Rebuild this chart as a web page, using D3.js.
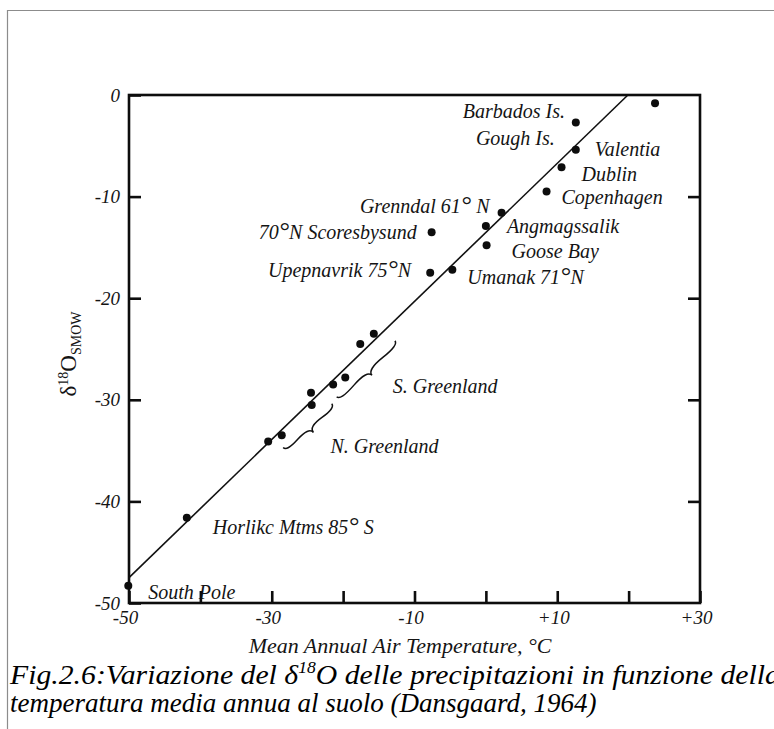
<!DOCTYPE html>
<html>
<head>
<meta charset="utf-8">
<script src="https://cdn.jsdelivr.net/npm/d3@7"></script>
<style>
  html, body { margin: 0; padding: 0; background: #fff; }
  svg { display: block; }
</style>
</head>
<body>
<svg id="chart" width="774" height="729"></svg>
<script>
// Named stations: mean annual air temperature (°C) and δ18O of precipitation (‰ SMOW)
const stationNames = ["Barbados Is.", "Gough Is.", "Valentia", "Dublin", "Copenhagen",
  "Grenndal 61° N", "Angmagssalik", "70°N Scoresbysund", "Goose Bay",
  "Upepnavrik 75°N", "Umanak 71°N", "Horlikc Mtms 85° S", "South Pole"];
const stationTemp  = [23.7, 12.6, 12.6, 10.6, 8.5, 2.2, 0.0, -7.6, 0.1, -7.8, -4.7, -41.9, -50.1];
const stationDelta = [-0.8, -2.7, -5.4, -7.1, -9.5, -11.6, -12.9, -13.5, -14.8, -17.5, -17.2, -41.6, -48.3];

// Greenland ice-sheet stations (grouped by braces, not labelled one by one)
const greenlandTemp  = [-15.7, -17.6, -19.7, -21.4, -24.5, -24.4, -28.6, -30.5];
const greenlandDelta = [-23.5, -24.5, -27.8, -28.5, -29.3, -30.5, -33.5, -34.1];

// Brace groups: lower end and upper end of each brace, in (T, δ)
const groupNames = ["S. Greenland", "N. Greenland"];
const groupLow   = [[-20.9, -29.7], [-28.4, -34.7]];
const groupHigh  = [[-12.75, -24.2], [-21.6, -30.4]];

// Regression line end points
const fitTemp  = [-50, 19.9];
const fitDelta = [-47.5, 0];

// Axis ticks and their labels
const xTicks      = [-50, -40, -30, -20, -10, 0, 10, 20, 30];
const xTickLabels = ["-50", "", "-30", "", "-10", "", "+10", "", "+30"];
const yTicks      = [0, -10, -20, -30, -40, -50];
const yTickLabels = ["0", "-10", "-20", "-30", "-40", "-50"];
const yRightTicks = [-10, -20, -30, -40];

// Label placement relative to each station point (pixels)
const stationLabelLayout = [
  { dx: -90, dy: 15, anchor: "end" },
  { dx: -21, dy: 23, anchor: "end" },
  { dx: 19, dy: 6, anchor: "start" },
  { dx: 20, dy: 14, anchor: "start" },
  { dx: 15, dy: 12, anchor: "start" },
  { dx: -12, dy: 0, anchor: "end" },
  { dx: 21, dy: 7, anchor: "start" },
  { dx: -15, dy: 7, anchor: "end" },
  { dx: 25, dy: 13, anchor: "start" },
  { dx: -19, dy: 4, anchor: "end" },
  { dx: 15, dy: 14, anchor: "start" },
  { dx: 26, dy: 16, anchor: "start" },
  { dx: 20, dy: 13, anchor: "start" }
];
const groupLabelLayout = [{ dx: 27, dy: 24 }, { dx: 23, dy: 27 }];

const SERIF = "'Liberation Serif', 'Times New Roman', serif";
const INK = "#141414";

const svg = d3.select("#chart");

function label(sel, size) {
  return sel.style("font-family", SERIF).style("font-style", "italic")
    .style("font-size", size + "px").style("fill", INK);
}

// Figure frame
svg.append("path")
  .attr("d", "M7.5,729 V10.5 H774")
  .attr("fill", "none")
  .attr("stroke", "#8c8c8c")
  .attr("stroke-width", 1.2);

const x = d3.scaleLinear().domain([-50, 30]).range([129, 700]);
const y = d3.scaleLinear().domain([-50, 0]).range([603, 95]);

// Regression line
svg.append("line")
  .attr("x1", x(fitTemp[0])).attr("y1", y(fitDelta[0]))
  .attr("x2", x(fitTemp[1])).attr("y2", y(fitDelta[1]))
  .attr("stroke", "#111").attr("stroke-width", 1.6);

// Points
const points = stationTemp.map((t, i) => ({ t, d: stationDelta[i] }))
  .concat(greenlandTemp.map((t, i) => ({ t, d: greenlandDelta[i] })));
svg.append("g").selectAll("circle").data(points).join("circle")
  .attr("cx", p => x(p.t)).attr("cy", p => y(p.d))
  .attr("r", 4).attr("fill", "#0d0d0d");

// Curly brace between two points, bulging to the right of the direction p1 -> p2
function bracePath(x1, y1, x2, y2, w, q) {
  const len = Math.hypot(x1 - x2, y1 - y2);
  const dx = (x1 - x2) / len, dy = (y1 - y2) / len;
  const qx1 = x1 + q * w * dy, qy1 = y1 - q * w * dx;
  const qx2 = (x1 - 0.25 * len * dx) + (1 - q) * w * dy;
  const qy2 = (y1 - 0.25 * len * dy) - (1 - q) * w * dx;
  const tx = (x1 - 0.5 * len * dx) + w * dy;
  const ty = (y1 - 0.5 * len * dy) - w * dx;
  const qx3 = x2 + q * w * dy, qy3 = y2 - q * w * dx;
  const qx4 = (x1 - 0.75 * len * dx) + (1 - q) * w * dy;
  const qy4 = (y1 - 0.75 * len * dy) - (1 - q) * w * dx;
  return `M${x1},${y1} Q${qx1},${qy1} ${qx2},${qy2} T${tx},${ty} ` +
         `M${x2},${y2} Q${qx3},${qy3} ${qx4},${qy4} T${tx},${ty}`;
}

groupNames.forEach((name, i) => {
  const x1 = x(groupLow[i][0]), y1 = y(groupLow[i][1]);
  const x2 = x(groupHigh[i][0]), y2 = y(groupHigh[i][1]);
  svg.append("path")
    .attr("d", bracePath(x1, y1, x2, y2, 9, 0.6))
    .attr("fill", "none").attr("stroke", "#111").attr("stroke-width", 1.5);
  svg.append("text")
    .attr("x", (x1 + x2) / 2 + groupLabelLayout[i].dx)
    .attr("y", (y1 + y2) / 2 + groupLabelLayout[i].dy)
    .call(label, 20)
    .text(name);
});

// Station labels (degree sign drawn a little larger, as in the figure)
stationNames.forEach((name, i) => {
  const L = stationLabelLayout[i];
  const t = svg.append("text")
    .attr("x", x(stationTemp[i]) + L.dx)
    .attr("y", y(stationDelta[i]) + L.dy)
    .attr("text-anchor", L.anchor)
    .call(label, 20);
  name.split("°").forEach((part, k) => {
    if (k > 0) t.append("tspan").style("font-size", "26px").text("°");
    t.append("tspan").text(part);
  });
});

// Plot frame
svg.append("rect")
  .attr("x", x(-50)).attr("y", y(0))
  .attr("width", x(30) - x(-50)).attr("height", y(-50) - y(0))
  .attr("fill", "none").attr("stroke", "#0d0d0d").attr("stroke-width", 2.6);

function styleAxis(g) {
  g.select(".domain").remove();
  g.selectAll(".tick line").attr("stroke", "#0d0d0d").attr("stroke-width", 2.6);
  g.selectAll(".tick text").call(label, 19);
}

svg.append("g").attr("transform", `translate(0,${y(-50)})`)
  .call(d3.axisBottom(x).tickValues(xTicks).tickSizeInner(-12).tickSizeOuter(0)
    .tickPadding(8).tickFormat((d, i) => xTickLabels[i]))
  .call(styleAxis)
  .call(g => g.selectAll(".tick text").attr("dx", -4));

svg.append("g").attr("transform", `translate(${x(-50)},0)`)
  .call(d3.axisLeft(y).tickValues(yTicks).tickSizeInner(-12).tickSizeOuter(0)
    .tickPadding(9).tickFormat((d, i) => yTickLabels[i]))
  .call(styleAxis);

svg.append("g").attr("transform", `translate(${x(30)},0)`)
  .call(d3.axisRight(y).tickValues(yRightTicks).tickSizeInner(-12).tickSizeOuter(0)
    .tickFormat(""))
  .call(styleAxis);

// Axis titles
svg.append("text")
  .attr("x", 400).attr("y", 653)
  .attr("text-anchor", "middle")
  .call(label, 22)
  .text("Mean Annual Air Temperature, °C");

const yt = svg.append("text")
  .attr("transform", "translate(76,354) rotate(-90)")
  .attr("text-anchor", "middle")
  .call(label, 23)
  .style("font-style", "normal");
yt.append("tspan").text("δ");
yt.append("tspan").style("font-size", "14px").attr("dy", -8).text("18");
yt.append("tspan").attr("dy", 8).text("O");
yt.append("tspan").style("font-size", "14px").attr("dy", 5).text("SMOW");

// Caption: each line stretched to its printed width
function captionLine(yPos, width, build) {
  const t = svg.append("text").attr("x", 0).attr("y", 0)
    .call(label, 27).style("fill", "#000");
  build(t);
  const k = width / t.node().getComputedTextLength();
  t.attr("transform", `translate(10,${yPos}) scale(${k},1)`);
  return t;
}
captionLine(684, 770, t => {
  t.append("tspan").text("Fig.2.6:Variazione del δ");
  t.append("tspan").style("font-size", "16px").attr("dy", -11).text("18");
  t.append("tspan").attr("dy", 11).text("O delle precipitazioni in funzione della");
});
captionLine(712, 587, t => t.text("temperatura media annua al suolo (Dansgaard, 1964)"));
</script>
</body>
</html>
